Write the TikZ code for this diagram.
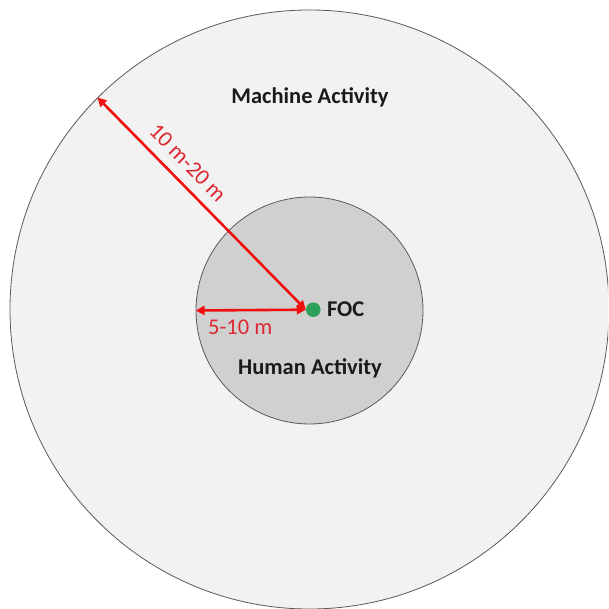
\documentclass[tikz,border=0pt]{standalone}
\usepackage{fontspec}
\setmainfont{Carlito}
\usepackage{xcolor}
\usetikzlibrary{arrows.meta,positioning}
\definecolor{vouter}{HTML}{F2F2F2}
\definecolor{vinner}{HTML}{D0D0D0}
\definecolor{vedge}{HTML}{5A5A5A}
\definecolor{vred}{HTML}{F01010}
\definecolor{vlabel}{HTML}{DC2832}
\definecolor{vgreen}{HTML}{2EA05A}
\definecolor{vblack}{HTML}{1A1A1A}

\begin{document}
\begin{tikzpicture}[x=1pt, y=1pt,
	zone/.style = {circle, draw = vedge, line width = 0.8pt, inner sep = 0pt},
	span/.style = {draw = vred, line width = 2.6pt, {Triangle[length=9pt,width=9pt]}-{Triangle[length=9pt,width=9pt]}},
	title/.style = {font = \fontsize{22.5}{26}\selectfont\bfseries, text = vblack, inner sep = 0pt},
	dist/.style = {font = \fontsize{22.5}{26}\selectfont, text = vlabel, inner sep = 0pt}]
	\clip (0,0) rectangle (608,609);
	\fill[white] (0,0) rectangle (608,609);
	% circles
	\node[zone, fill = vouter, minimum size = 599pt] (machine) at (309.5,299.5) {};
	\node[zone, fill = vinner, minimum size = 227pt] (human) at (309.5,298.5) {};
	\node[circle, fill = vgreen, inner sep = 0pt, minimum size = 14.6pt] (dot) at (313.3,299.3) {};
	% texts
	\node[title, anchor = base] (machinetext) at (310,505) {Machine Activity};
	\node[title, anchor = base] (humantext) at (310,234) {Human Activity};
	\node[title, right = 6pt of dot] (foc) {FOC};
	% distances
	\draw[span] (machine.135) -- (dot.west) node[dist, pos = 0.37, sloped, above = 10pt] (far) {10 m-20 m};
	\draw[span] (human.west) -- (dot.west);
	\node[dist, anchor = base west] (near) at (208,274) {5-10 m};
\end{tikzpicture}
\end{document}
